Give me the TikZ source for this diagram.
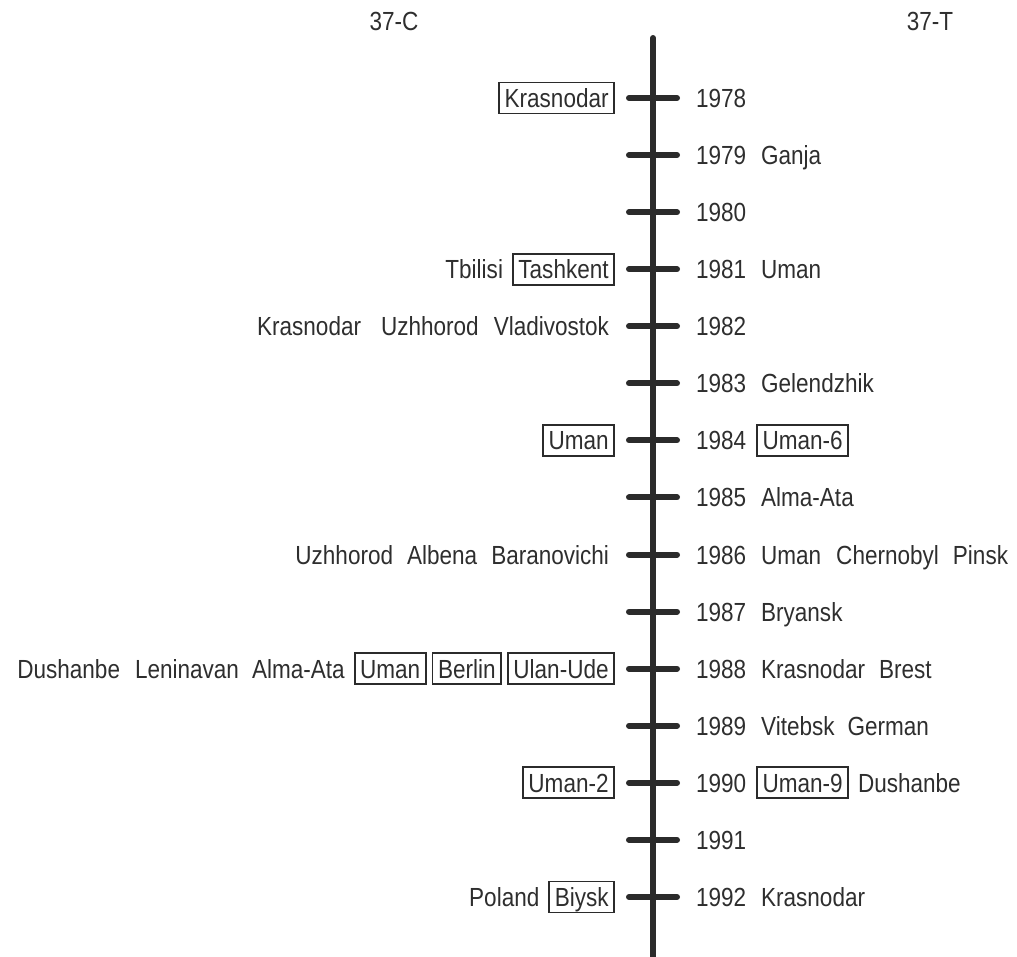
\documentclass[tikz,border=0pt]{standalone}
\usepackage{fontspec}
\setmainfont{Liberation Sans}[FakeStretch=0.86]
\usetikzlibrary{positioning}
\definecolor{ink}{HTML}{2E2E2E}
\definecolor{linec}{HTML}{2B2B2B}
\begin{document}
\begin{tikzpicture}[x=1pt,y=-1pt,
  every node/.style={font=\fontsize{26.2}{30}\selectfont, text=ink, inner sep=0pt,
    outer sep=0pt, text height=22pt, text depth=3pt},
  bx/.style={draw=linec, line width=1.8pt, inner xsep=5.5pt, inner ysep=3pt, outer sep=0.9pt},
  axis/.style={draw=linec, line width=6pt, line cap=round},
  tickline/.style={draw=linec, line width=6pt, line cap=round}]
\useasboundingbox (0,0) rectangle (1017,956);
% headers
\node (hC) at (394,21) {37-C};
\node (hT) at (930,21) {37-T};
% axis
\coordinate (top) at (653,38);
\coordinate (bot) at (653,960);
\draw[axis] (top) -- (bot);
% ticks and years
\foreach \yr [count=\i from 0] in {1978,1979,1980,1981,1982,1983,1984,1985,1986,1987,1988,1989,1990,1991,1992} {
  \coordinate (t\yr) at (653,98+\i*57.07);
  \draw[tickline] ([xshift=-24pt]t\yr) -- ([xshift=24pt]t\yr);
  \node[anchor=west] (y\yr) at ([xshift=43pt]t\yr) {\yr};
}
% 1978
\node[bx,anchor=east] (l78a) at ([xshift=-38pt]t1978) {Krasnodar};
% 1979
\node[right=15pt of y1979] (r79a) {Ganja};
% 1981
\node[bx,anchor=east] (l81b) at ([xshift=-38pt]t1981) {Tashkent};
\node[left=9pt of l81b] (l81a) {Tbilisi};
\node[right=15pt of y1981] (r81a) {Uman};
% 1982
\node[anchor=east] (l82c) at ([xshift=-44pt]t1982) {Vladivostok};
\node[left=15pt of l82c] (l82b) {Uzhhorod};
\node[left=20pt of l82b] (l82a) {Krasnodar};
% 1983
\node[right=15pt of y1983] (r83a) {Gelendzhik};
% 1984
\node[bx,anchor=east] (l84a) at ([xshift=-38pt]t1984) {Uman};
\node[bx,right=10pt of y1984] (r84a) {Uman-6};
% 1985
\node[right=15pt of y1985] (r85a) {Alma-Ata};
% 1986
\node[anchor=east] (l86c) at ([xshift=-44pt]t1986) {Baranovichi};
\node[left=14pt of l86c] (l86b) {Albena};
\node[left=14pt of l86b] (l86a) {Uzhhorod};
\node[right=15pt of y1986] (r86a) {Uman};
\node[right=15pt of r86a] (r86b) {Chernobyl};
\node[right=14pt of r86b] (r86c) {Pinsk};
% 1987
\node[right=15pt of y1987] (r87a) {Bryansk};
% 1988
\node[bx,anchor=east] (l88f) at ([xshift=-38pt]t1988) {Ulan-Ude};
\node[bx,left=5pt of l88f] (l88e) {Berlin};
\node[bx,left=5pt of l88e] (l88d) {Uman};
\node[left=9pt of l88d] (l88c) {Alma-Ata};
\node[left=13pt of l88c] (l88b) {Leninavan};
\node[left=15pt of l88b] (l88a) {Dushanbe};
\node[right=15pt of y1988] (r88a) {Krasnodar};
\node[right=14pt of r88a] (r88b) {Brest};
% 1989
\node[right=15pt of y1989] (r89a) {Vitebsk};
\node[right=13pt of r89a] (r89b) {German};
% 1990
\node[bx,anchor=east] (l90a) at ([xshift=-38pt]t1990) {Uman-2};
\node[bx,right=10pt of y1990] (r90a) {Uman-9};
\node[right=9pt of r90a] (r90b) {Dushanbe};
% 1992
\node[bx,anchor=east] (l92b) at ([xshift=-38pt]t1992) {Biysk};
\node[left=9pt of l92b] (l92a) {Poland};
\node[right=15pt of y1992] (r92a) {Krasnodar};
\end{tikzpicture}
\end{document}
